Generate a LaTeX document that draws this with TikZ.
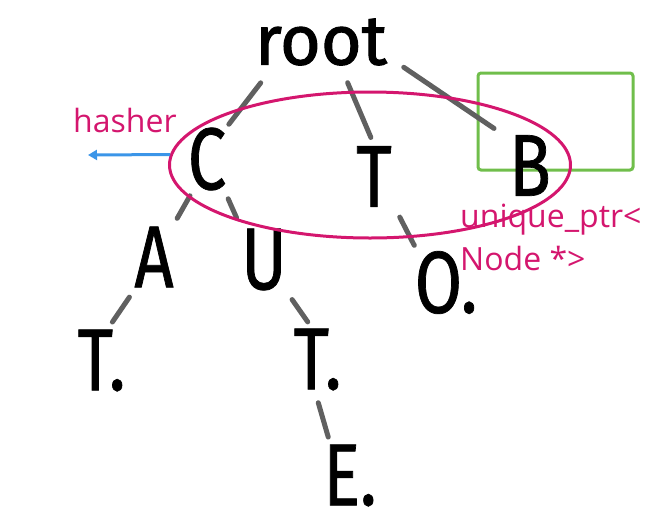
\documentclass[tikz,border=0pt]{standalone}
\usepackage{fontspec}
\usetikzlibrary{arrows.meta,shapes.geometric}
\setmainfont{Open Sans}
\newfontfamily\handfont[FakeStretch=0.78,FakeBold=0.8]{Fira Sans}
\newfontfamily\rootfont[FakeBold=1.5]{Fira Sans}
\definecolor{pinkline}{RGB}{212,22,110}
\definecolor{greenbox}{RGB}{112,190,75}
\definecolor{bluearrow}{RGB}{59,149,232}
\definecolor{stroke}{RGB}{96,96,96}

\begin{document}
\begin{tikzpicture}[x=1pt,y=-1pt,
	letter/.style={inner sep=0pt,font=\handfont\fontsize{88}{88}\selectfont},
	link/.style={line width=5pt,line cap=round,draw=stroke},
	note/.style={inner sep=0pt,anchor=base west,text=pinkline,font=\fontsize{32}{32}\selectfont}]
	\useasboundingbox (0,0) rectangle (648,523);
	% bucket box
	\node[draw=greenbox,line width=3pt,rounded corners=3pt,minimum width=155,minimum height=97] (slot) at (555.5,121.5) {};
	% trie letters
	\node[letter,font=\rootfont\fontsize{70}{70}\selectfont,minimum width=127,minimum height=48] (root) at (321,42) {root};
	\node[letter,minimum width=38,minimum height=62] (c) at (207,159) {C};
	\node[letter,minimum width=42,minimum height=63] (t) at (374,176.5) {T};
	\node[letter,minimum width=40,minimum height=65] (b) at (530,165.5) {B};
	\node[letter,minimum width=42,minimum height=70] (a) at (154,257) {A};
	\node[letter,minimum width=38,minimum height=65] (u) at (264,259.5) {U};
	\node[letter,minimum width=52,minimum height=65] (o) at (446,282.5) {O.};
	\node[letter,minimum width=57,minimum height=65] (t1) at (101.5,360.5) {T.};
	\node[letter,minimum width=59,minimum height=65] (t2) at (317.5,359.5) {T.};
	\node[letter,minimum width=60,minimum height=63] (e) at (350,475.5) {E.};
	% links
	\draw[link,shorten <=21pt,shorten >=4pt] (root.207) -- (c.north east);
	\draw[link,shorten <=18pt,shorten >=8pt] (root.-51) -- (t.north);
	\draw[link,shorten <=20pt,shorten >=18pt] (root.-12) -- (b.128);
	\draw[link,shorten <=6pt,shorten >=4pt] (c.246) -- (a.north east);
	\draw[link,shorten <=9pt,shorten >=11pt] (c.-61) -- (u.126);
	\draw[link,shorten <=10pt,shorten >=5pt] (t.south east) -- (o.132);
	\draw[link,shorten <=6pt,shorten >=7pt] (a.south west) -- (t1.78);
	\draw[link,shorten <=9pt,shorten >=6pt] (u.south east) -- (t2.101);
	\draw[link,shorten <=11pt,shorten >=7pt] (t2.-94) -- (e.122);
	% hash table of the children
	\node[draw=pinkline,line width=3pt,ellipse,minimum width=401,minimum height=146] (table) at (370,165) {};
	\coordinate (hashout) at (88,155);
	\draw[bluearrow,line width=3pt,-{Triangle[length=9pt,width=10pt]}] (table.177) -- (hashout);
	\node[note] (hashlabel) at (73,132) {hasher};
	\node[note] (ptrlabel) at (460,227) {unique\_ptr<};
	\node[note] (nodelabel) at (460,270) {Node *>};
\end{tikzpicture}
\end{document}
